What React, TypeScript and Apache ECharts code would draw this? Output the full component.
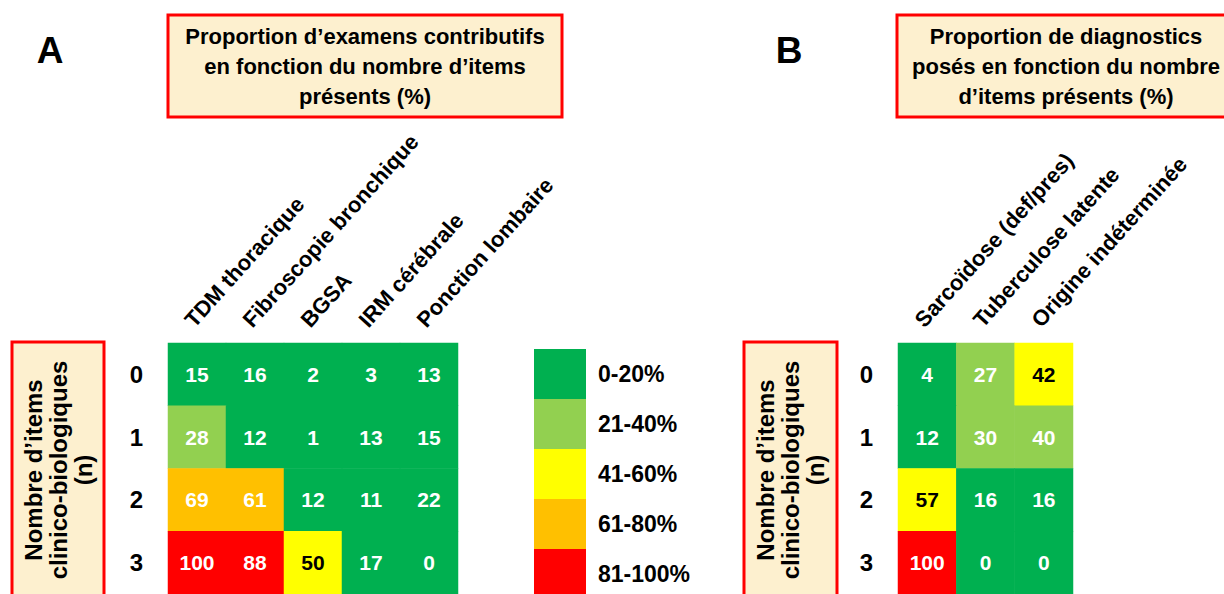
import React, { useEffect, useRef } from "react";
import * as echarts from "echarts";

const COLS_A = ["TDM thoracique", "Fibroscopie bronchique", "BGSA", "IRM cérébrale", "Ponction lombaire"];
const COLS_B = ["Sarcoïdose (def/pres)", "Tuberculose latente", "Origine indéterminée"];
const ROWS = ["0", "1", "2", "3"];

// values[row][col]
const VALUES_A = [
  [15, 16, 2, 3, 13],
  [28, 12, 1, 13, 15],
  [69, 61, 12, 11, 22],
  [100, 88, 50, 17, 0],
];
// colour class shown in the picture (index into legend)
const CLASS_A = [
  [0, 0, 0, 0, 0],
  [1, 0, 0, 0, 0],
  [3, 3, 0, 0, 0],
  [4, 4, 2, 0, 0],
];
const VALUES_B = [
  [4, 27, 42],
  [12, 30, 40],
  [57, 16, 16],
  [100, 0, 0],
];
const CLASS_B = [
  [0, 1, 2],
  [0, 1, 1],
  [2, 0, 0],
  [4, 0, 0],
];

const LEGEND_LABELS = ["0-20%", "21-40%", "41-60%", "61-80%", "81-100%"];
const LEGEND_COLORS = ["#00b050", "#92d050", "#ffff00", "#ffc000", "#ff0000"];

const TITLE_A = "Proportion d’examens contributifs\nen fonction du nombre d’items\nprésents (%)";
const TITLE_B = "Proportion de diagnostics\nposés en fonction du nombre\nd’items présents (%)";
const Y_TITLE = "Nombre d’items\nclinico-biologiques\n(n)";

const FONT = "Arial, 'Liberation Sans', Helvetica, sans-serif";
const BOX_FILL = "#fdf0cf";
const BOX_STROKE = "#ff0000";

function buildData(values: number[][], classes: number[][]) {
  const out: any[] = [];
  values.forEach((row, r) =>
    row.forEach((v, c) => {
      const cls = classes[r][c];
      out.push({
        value: [c, r, v, cls],
        label: { color: cls === 2 ? "#000000" : "#ffffff" },
      });
    })
  );
  return out;
}

export default function App() {
  const ref = useRef<HTMLDivElement>(null);

  useEffect(() => {
    if (!ref.current) return;
    const chart = echarts.init(ref.current, undefined, { renderer: "svg" });

    const xAxisCommon = {
      type: "category",
      position: "top",
      axisLine: { show: false },
      axisTick: { show: false },
      splitLine: { show: false },
      axisLabel: {
        rotate: -48,
        interval: 0,
        margin: 12,
        verticalAlign: "bottom",
        fontSize: 22,
        fontWeight: "bold",
        fontFamily: FONT,
        color: "#000",
      },
    };
    const yAxisCommon = {
      type: "category",
      data: ROWS,
      inverse: true,
      axisLine: { show: false },
      axisTick: { show: false },
      splitLine: { show: false },
      axisLabel: {
        margin: 25,
        fontSize: 24,
        fontWeight: "bold",
        fontFamily: FONT,
        color: "#000",
      },
    };
    const labelCommon = {
      show: true,
      fontSize: 21,
      fontWeight: "bold",
      fontFamily: FONT,
      formatter: (p: any) => String(p.value[2]),
    };

    const yTitle = (cx: number) => ({
      type: "text",
      x: cx,
      y: 470,
      rotation: Math.PI / 2,
      style: {
        text: Y_TITLE,
        align: "center",
        verticalAlign: "middle",
        fontSize: 24,
        lineHeight: 25,
        fontWeight: "bold",
        fontFamily: FONT,
        fill: "#000",
      },
    });

    chart.setOption({
      animation: false,
      backgroundColor: "#ffffff",
      grid: [
        { left: 168, top: 343, width: 290, height: 252 },
        { left: 898, top: 343, width: 175, height: 252 },
      ],
      xAxis: [
        { ...xAxisCommon, gridIndex: 0, data: COLS_A },
        { ...xAxisCommon, gridIndex: 1, data: COLS_B },
      ],
      yAxis: [
        { ...yAxisCommon, gridIndex: 0 },
        { ...yAxisCommon, gridIndex: 1 },
      ],
      visualMap: {
        type: "piecewise",
        dimension: 3,
        seriesIndex: [0, 1],
        orient: "vertical",
        inverse: true,
        left: 534,
        top: 349,
        padding: 0,
        itemWidth: 52,
        itemHeight: 50,
        itemGap: 0,
        itemSymbol: "rect",
        textGap: 12,
        selectedMode: false,
        hoverLink: false,
        pieces: LEGEND_LABELS.map((l, i) => ({ value: i, label: l, color: LEGEND_COLORS[i] })),
        textStyle: { fontSize: 23, fontWeight: "bold", fontFamily: FONT, color: "#000" },
      },
      series: [
        {
          type: "heatmap",
          xAxisIndex: 0,
          yAxisIndex: 0,
          data: buildData(VALUES_A, CLASS_A),
          label: labelCommon,
          emphasis: { disabled: true },
        },
        {
          type: "heatmap",
          xAxisIndex: 1,
          yAxisIndex: 1,
          data: buildData(VALUES_B, CLASS_B),
          label: labelCommon,
          emphasis: { disabled: true },
        },
      ],
      graphic: [
        {
          type: "text",
          x: 50,
          y: 50,
          style: { text: "A", align: "center", verticalAlign: "middle", fontSize: 37, fontWeight: "bold", fontFamily: FONT, fill: "#000" },
        },
        {
          type: "text",
          x: 789,
          y: 50,
          style: { text: "B", align: "center", verticalAlign: "middle", fontSize: 37, fontWeight: "bold", fontFamily: FONT, fill: "#000" },
        },
        {
          type: "rect",
          shape: { x: 168, y: 15, width: 394, height: 102 },
          style: { fill: BOX_FILL, stroke: BOX_STROKE, lineWidth: 3 },
        },
        {
          type: "text",
          x: 365,
          y: 66,
          style: {
            text: TITLE_A,
            align: "center",
            verticalAlign: "middle",
            fontSize: 22,
            lineHeight: 30,
            fontWeight: "bold",
            fontFamily: FONT,
            fill: "#000",
          },
        },
        {
          type: "rect",
          shape: { x: 897, y: 15, width: 340, height: 102 },
          style: { fill: BOX_FILL, stroke: BOX_STROKE, lineWidth: 3 },
        },
        {
          type: "text",
          x: 1066,
          y: 66,
          style: {
            text: TITLE_B,
            align: "center",
            verticalAlign: "middle",
            fontSize: 22,
            lineHeight: 30,
            fontWeight: "bold",
            fontFamily: FONT,
            fill: "#000",
          },
        },
        {
          type: "rect",
          shape: { x: 12, y: 342, width: 92, height: 270 },
          style: { fill: BOX_FILL, stroke: BOX_STROKE, lineWidth: 3 },
        },
        yTitle(58),
        {
          type: "rect",
          shape: { x: 744, y: 342, width: 93, height: 270 },
          style: { fill: BOX_FILL, stroke: BOX_STROKE, lineWidth: 3 },
        },
        yTitle(790),
      ],
    });

    return () => chart.dispose();
  }, []);

  return (
    <div
      ref={ref}
      style={{ position: "fixed", left: 0, top: 0, width: 1224, height: 594, background: "#fff" }}
    />
  );
}
